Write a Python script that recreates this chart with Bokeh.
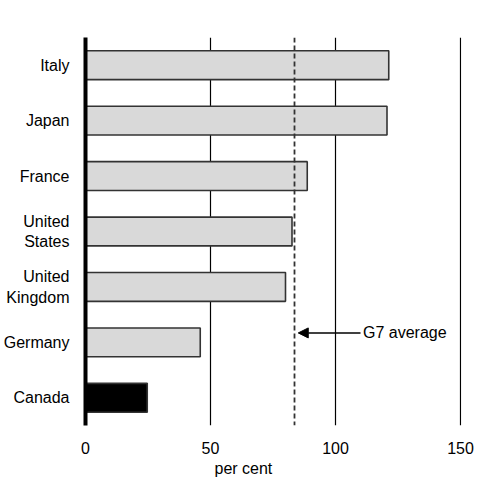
from bokeh.plotting import figure
from bokeh.models import Range1d, FixedTicker, Span, Arrow, NormalHead, Label, Title, ColumnDataSource
from bokeh.embed import file_html
from bokeh.resources import INLINE

# Data (top to bottom in the chart)
countries = ["Italy", "Japan", "France", "United\nStates", "United\nKingdom", "Germany", "Canada"]
values = [121.3, 120.6, 88.7, 82.6, 80.0, 45.9, 24.7]
bar_colors = ["#d9d9d9", "#d9d9d9", "#d9d9d9", "#d9d9d9", "#d9d9d9", "#d9d9d9", "#000000"]
g7_average = 83.6
x_ticks = [0, 50, 100, 150]

FONT = "Liberation Sans"

n = len(countries)
ypos = [n - 1 - i for i in range(n)]

src = ColumnDataSource(dict(y=ypos, v=values, c=bar_colors))

p = figure(width=477, height=477, output_backend="svg", toolbar_location=None,
           x_range=Range1d(0, 150.4), y_range=Range1d(-0.5, n - 0.5),
           min_border_top=37, min_border_right=16, min_border_left=76, min_border_bottom=52)
p.outline_line_color = None
p.background_fill_color = "white"
p.border_fill_color = "white"

p.hbar(y="y", right="v", left=0, height=0.52, source=src, fill_color="c",
       line_color="#333333", line_width=1.6)

# grid
p.ygrid.grid_line_color = None
p.xgrid.ticker = FixedTicker(ticks=x_ticks)
p.xgrid.grid_line_color = "black"
p.xgrid.grid_line_width = 1.2

# x axis
p.xaxis.ticker = FixedTicker(ticks=x_ticks)
p.xaxis.axis_line_color = None
p.xaxis.major_tick_line_color = None
p.xaxis.minor_tick_line_color = None
p.xaxis.major_label_text_font = FONT
p.xaxis.major_label_text_font_size = "16px"
p.xaxis.major_label_text_color = "black"
p.xaxis.major_label_standoff = 10

# y axis
p.yaxis.ticker = FixedTicker(ticks=ypos)
p.yaxis.major_label_overrides = {y: c for y, c in zip(ypos, countries)}
p.yaxis.axis_line_color = "black"
p.yaxis.axis_line_width = 4
p.yaxis.major_tick_line_color = None
p.yaxis.minor_tick_line_color = None
p.yaxis.major_label_text_font = FONT
p.yaxis.major_label_text_font_size = "16px"
p.yaxis.major_label_text_color = "black"
p.yaxis.major_label_standoff = 10

# G7 average dashed line
p.add_layout(Span(location=g7_average, dimension="height", line_color="#333333",
                  line_width=1.8, line_dash="5 3"))

# arrow + label
arrow_y = ypos[countries.index("Germany")] + 0.17
p.add_layout(Arrow(x_start=110, y_start=arrow_y, x_end=g7_average + 1.5, y_end=arrow_y,
                   line_color="black", line_width=1.5,
                   end=NormalHead(size=10, fill_color="black", line_color="black")))
p.add_layout(Label(x=111, y=arrow_y, text="G7 average", text_font=FONT,
                   text_font_size="16px", text_baseline="middle", text_align="left",
                   text_color="black"))

# x axis title (below the axis)
p.add_layout(Title(text="per cent", align="left", offset=129, text_font=FONT,
                   text_font_size="16px", text_font_style="normal", text_color="black",
                   standoff=2), "below")

open("out.html", "w").write(file_html(p, INLINE))
